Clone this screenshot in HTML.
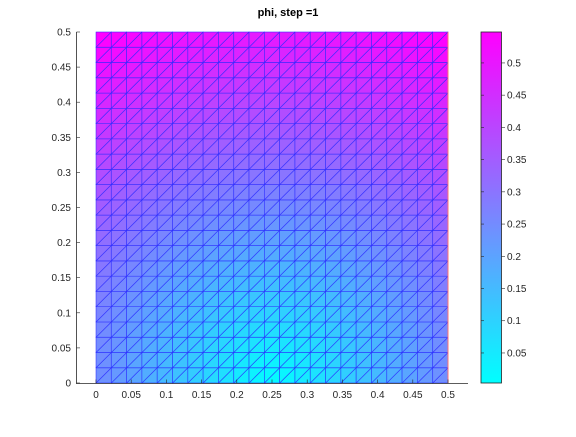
<!DOCTYPE html>
<html><head><meta charset="utf-8"><style>
html,body{margin:0;padding:0;background:#fff;}
svg text{font-family:"Liberation Sans",sans-serif;font-size:10px;fill:#262626;}
</style></head><body>
<svg id="c" width="576" height="432" xmlns="http://www.w3.org/2000/svg">
<text x="288" y="16" text-anchor="middle" style="font-weight:bold;font-size:11px;fill:#000">phi, step =1</text>
<g id="mesh"></g>
<g id="axes"></g>
<defs><linearGradient id="cg" x1="0" y1="1" x2="0" y2="0"><stop offset="0" stop-color="#00ffff"/><stop offset="1" stop-color="#ff00ff"/></linearGradient></defs>
<rect x="481" y="32" width="20.5" height="351" fill="url(#cg)" stroke="#262626" stroke-width="0.8"/>
<g id="cb"></g>
</svg>
<script>
const xTicks=[0,0.05,0.1,0.15,0.2,0.25,0.3,0.35,0.4,0.45,0.5];
const yTicks=[0,0.05,0.1,0.15,0.2,0.25,0.3,0.35,0.4,0.45,0.5];
const cbTicks=[0.05,0.1,0.15,0.2,0.25,0.3,0.35,0.4,0.45,0.5];
const nCells=23;
const source=[0.25,0];
const clim=[0.0034,0.548];
const NS='http://www.w3.org/2000/svg';
const X0=96,X1=448,Y0=383,Y1=32;
const sx=v=>X0+(v-0)/(0.5)*(X1-X0);
const sy=v=>Y0-(v-0)/(0.5)*(Y0-Y1);
const cy=v=>383-(v-clim[0])/(clim[1]-clim[0])*351;
function phi(x,y){return Math.hypot(x-source[0],y-source[1]);}
function col(v){let t=(v-clim[0])/(clim[1]-clim[0]);t=Math.max(0,Math.min(1,t));
return `rgb(${Math.round(255*t)},${Math.round(255*(1-t))},255)`;}
function mk(tag,attrs,parent){const e=document.createElementNS(NS,tag);for(const k in attrs)e.setAttribute(k,attrs[k]);parent.appendChild(e);return e;}
const mesh=document.getElementById('mesh');
const h=0.5/nCells;
for(let i=0;i<nCells;i++)for(let j=0;j<nCells;j++){
 const x0=i*h,x1=(i+1)*h,y0=j*h,y1=(j+1)*h;
 const tris=[[[x0,y0],[x1,y0],[x1,y1]],[[x0,y0],[x1,y1],[x0,y1]]];
 for(const t of tris){
  const c=(phi(...t[0])+phi(...t[1])+phi(...t[2]))/3;
  const p=mk('polygon',{points:t.map(q=>sx(q[0]).toFixed(2)+','+sy(q[1]).toFixed(2)).join(' '),fill:col(c),stroke:'#2a2aff','stroke-width':0.7,'stroke-opacity':0.75,'stroke-linejoin':'round'},mesh);
  
  
 }
}
const ax=document.getElementById('axes');
mk('line',{x1:X1,y1:Y1,x2:X1,y2:Y0,stroke:'#ff7070','stroke-width':1},ax);
mk('line',{x1:76,y1:Y0+0.5,x2:468,y2:Y0+0.5,stroke:'#262626','stroke-width':0.8},ax);
mk('line',{x1:76.5,y1:Y1,x2:76.5,y2:Y0+0.5,stroke:'#262626','stroke-width':0.8},ax);
for(const v of xTicks){
 mk('line',{x1:sx(v),y1:Y0,x2:sx(v),y2:Y0-3.5,stroke:'#262626','stroke-width':0.6},ax);
 const t=mk('text',{x:sx(v),y:Y0+15,'text-anchor':'middle'},ax);t.textContent=String(v);
 
 
}
for(const v of yTicks){
 mk('line',{x1:76.5,y1:sy(v),x2:80,y2:sy(v),stroke:'#262626','stroke-width':0.6},ax);
 const t=mk('text',{x:71,y:sy(v)+3.5,'text-anchor':'end'},ax);t.textContent=String(v);
 
 
}
const cb=document.getElementById('cb');
for(const v of cbTicks){
 mk('line',{x1:501.5,y1:cy(v),x2:505,y2:cy(v),stroke:'#262626','stroke-width':0.6},cb);
 mk('line',{x1:481,y1:cy(v),x2:484,y2:cy(v),stroke:'#262626','stroke-width':0.6},cb);
 const t=mk('text',{x:507,y:cy(v)+3.5},cb);t.textContent=String(v);
 
 
}
</script>
</body></html>
